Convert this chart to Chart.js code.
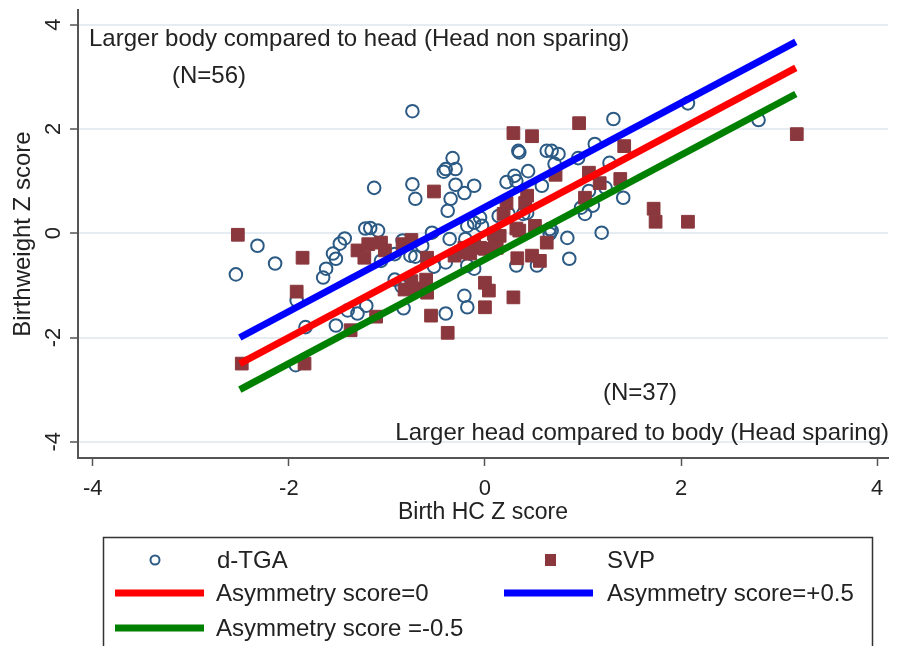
<!DOCTYPE html>
<html>
<head>
<meta charset="utf-8">
<script src="https://cdn.jsdelivr.net/npm/chart.js@4.4.1/dist/chart.umd.min.js"></script>
<style>
  html, body { margin: 0; padding: 0; background: #fff; }
  #wrap { width: 898px; height: 646px; }
</style>
</head>
<body>
<div id="wrap"><canvas id="chart" width="898" height="646"></canvas></div>
<script>
// d-TGA (circles)
const tgaX = [-2.54, -2.32, -2.14, -1.92, -1.83, -1.93, -1.65, -1.62, -1.55, -1.52, -1.48, -1.43, -1.22,
  -1.06, -0.92, -0.92, -0.85, -0.83, -0.76, -0.71, -0.64, -0.52, -0.40, -1.52, -1.30, -1.40, -1.21,
  -0.74, -1.13, -0.74, -0.71, -0.33, -0.40, -0.42, -0.30, -0.30, -0.11, -0.21, -0.35, -0.38,
  0.34, 0.35, 0.44, 0.22, 0.30, 0.32, 0.58, 0.63, 0.14, -0.18, -0.11, -0.03, -0.54, -0.36, -0.20,
  -1.09, -1.17, -0.84, -0.40, -0.18, -0.11, -0.21, -0.18, 0.32, 0.53, 0.24, 0.43, -0.05,
  1.31, 2.07, 1.12, 0.68, 0.75, 0.95, 1.27, 0.71, 1.06, 1.23, 1.41, 0.98, 1.02, 1.10, 1.19,
  0.68, 0.84, 0.86, 2.79, 0.39, 0.66, 0.66];
const tgaY = [-0.79, -0.24, -0.58, -1.29, -1.80, -2.53, -0.85, -0.68, -0.39, -0.49, -0.20, -0.10, 0.09,
  -0.53, -0.40, -0.89, -1.02, -1.44, -0.43, -0.45, -0.24, -0.64, -1.54, -1.77, -1.54, -1.48, -1.39,
  2.34, 0.87, 0.94, 0.66, 1.44, 1.23, 1.18, 1.23, 0.93, 0.91, 0.77, 0.66, 0.43,
  1.58, 1.55, 1.19, 0.98, 1.10, 1.00, 0.91, 1.58, 0.33, 0.14, 0.20, 0.14, 0.01, -0.11, -0.11,
  0.05, 0.10, -0.14, -0.56, -0.62, -0.68, -1.20, -1.42, -0.62, -0.62, 0.37, 0.39, 0.30,
  2.19, 2.49, 1.71, 1.58, 1.52, 1.44, 1.35, 1.33, 0.81, 0.87, 0.68, 0.49, 0.37, 0.53, 0.01,
  0.05, -0.09, -0.49, 2.17, 0.37, 0.08, -0.01];

// SVP (squares)
const svpX = [-2.52, -1.86, -1.92, -2.48, -1.84, -1.30, -1.23, -1.19, -1.06, -1.02, -0.84, -0.75,
  -0.82, -0.75, -0.71, -0.60, -0.59, -0.55, -0.38, -1.37, -1.11,
  0.29, 0.48, -0.52, 0.22, 0.43, 0.41, 0.51, 0.32, 0.15, 0.10, 0.00, -0.11, -0.25, -0.31, -0.59,
  0.33, 0.48, 0.56, 0.00, 0.04, 0.00, 0.29,
  0.96, 1.42, 0.72, 1.06, 1.17, 1.38, 1.02, 1.72, 1.74, 2.07, 0.63, 3.18,
  0.19, 0.09, 0.12, -0.05, -0.15, -0.21, 0.35];
const svpY = [-0.03, -0.47, -1.12, -2.50, -2.50, -0.33, -0.47, -0.21, -0.18, -0.33, -0.21, -0.13,
  -1.08, -0.92, -1.06, -0.89, -1.14, -1.58, -1.91, -1.86, -1.60,
  1.92, 1.86, 0.80, 0.58, 0.72, 0.58, 0.14, 0.09, -0.05, -0.18, -0.30, -0.24, -0.37, -0.43, -0.47,
  -0.48, -0.43, -0.53, -0.95, -1.10, -1.42, -1.23,
  2.11, 1.67, 1.12, 1.16, 0.96, 1.04, 0.68, 0.47, 0.22, 0.22, -0.18, 1.90,
  0.37, -0.01, -0.28, -0.28, -0.39, -0.28, 0.05];

// asymmetry lines
const lineX = [-2.5, 3.17];
const lineZero = [-2.5, 3.17];
const linePlus = [-2.0, 3.67];
const lineMinus = [-3.0, 2.67];

const xTicks = [-4, -2, 0, 2, 4];
const yTicks = [-4, -2, 0, 2, 4];

const FONT = "'Liberation Sans', Arial, sans-serif";
const NAVY = '#2b5a84';
const MAROON = '#8a383d';

function pts(xs, ys) {
  return xs.map((x, i) => ({ x: x, y: ys[i] }));
}

// 注释文字 + 图例
const extras = {
  id: 'extras',
  afterDraw(chart) {
    const ctx = chart.ctx;
    ctx.save();
    ctx.fillStyle = '#222';
    ctx.font = '24px ' + FONT;
    ctx.textBaseline = 'middle';
    ctx.textAlign = 'left';
    ctx.fillText('Larger body compared to head (Head non sparing)', 89, 39);
    ctx.fillText('(N=56)', 172, 76);
    ctx.fillText('(N=37)', 603, 393);
    ctx.textAlign = 'right';
    ctx.fillText('Larger head compared to body (Head sparing)', 889, 433);

    // legend box
    ctx.strokeStyle = '#333';
    ctx.lineWidth = 1.5;
    ctx.strokeRect(103.5, 537.5, 769, 140);

    ctx.textAlign = 'left';
    // row 1
    ctx.beginPath();
    ctx.arc(155, 560, 4.5, 0, Math.PI * 2);
    ctx.strokeStyle = NAVY;
    ctx.lineWidth = 2;
    ctx.stroke();
    ctx.fillText('d-TGA', 217, 561);
    ctx.fillStyle = MAROON;
    ctx.fillRect(545, 554, 11, 12);
    ctx.fillStyle = '#222';
    ctx.fillText('SVP', 607, 561);
    // rows 2, 3
    const lines = [
      ['#ff0000', 115, 593, 'Asymmetry score=0', 216],
      ['#0000ff', 504, 593, 'Asymmetry score=+0.5', 607],
      ['#008000', 115, 628, 'Asymmetry score =-0.5', 216]
    ];
    lines.forEach(l => {
      ctx.fillStyle = l[0];
      ctx.fillRect(l[1], l[2] - 3.5, 89, 7);
      ctx.fillStyle = '#222';
      ctx.fillText(l[3], l[4], l[2] + 1);
    });
    ctx.restore();
  }
};

new Chart(document.getElementById('chart'), {
  type: 'scatter',
  data: {
    datasets: [
      { type: 'line', data: pts(lineX, lineZero), borderColor: '#ff0000', borderWidth: 7, pointRadius: 0, order: 0, borderCapStyle: 'butt' },
      { type: 'line', data: pts(lineX, linePlus), borderColor: '#0000ff', borderWidth: 7, pointRadius: 0, order: 0, borderCapStyle: 'butt' },
      { type: 'line', data: pts(lineX, lineMinus), borderColor: '#008000', borderWidth: 7, pointRadius: 0, order: 0, borderCapStyle: 'butt' },
      { label: 'SVP', data: pts(svpX, svpY), pointStyle: 'rect', pointRadius: 9, backgroundColor: MAROON, borderColor: MAROON, borderWidth: 1, order: 1 },
      { label: 'd-TGA', data: pts(tgaX, tgaY), pointStyle: 'circle', pointRadius: 6.3, backgroundColor: 'rgba(0,0,0,0)', borderColor: NAVY, borderWidth: 2, order: 2 }
    ]
  },
  options: {
    responsive: false,
    animation: false,
    layout: { padding: { left: 0, right: 4, top: 8, bottom: 118 } },
    plugins: { legend: { display: false }, tooltip: { enabled: false } },
    scales: {
      x: {
        type: 'linear',
        min: -4.15,
        max: 4.11,
        afterFit: s => { s.height = 70; s.paddingLeft = 0; s.paddingRight = 0; },
        afterBuildTicks: s => { s.ticks = xTicks.map(v => ({ value: v })); },
        border: { display: true, color: '#555', width: 2 },
        grid: { drawOnChartArea: false, drawTicks: true, tickLength: 8, tickColor: '#555', tickWidth: 1.5 },
        ticks: { color: '#222', font: { family: FONT, size: 22 }, padding: 10, maxRotation: 0 },
        title: { display: true, text: 'Birth HC Z score', color: '#222', font: { family: FONT, size: 23 }, padding: 2 }
      },
      y: {
        type: 'linear',
        min: -4.31,
        max: 4.28,
        afterFit: s => { s.width = 78; s.paddingTop = 0; s.paddingBottom = 0; },
        afterBuildTicks: s => { s.ticks = yTicks.map(v => ({ value: v })); },
        border: { display: true, color: '#555', width: 2 },
        grid: { color: '#e6edf2', lineWidth: 2, drawTicks: true, tickLength: 8, tickColor: '#555', tickWidth: 1.5 },
        ticks: { color: '#222', font: { family: FONT, size: 22 }, padding: 6, minRotation: 90, maxRotation: 90, crossAlign: 'center' },
        title: { display: true, text: 'Birthweight Z score', color: '#222', font: { family: FONT, size: 24 }, padding: 9 }
      }
    }
  },
  plugins: [extras]
});
</script>
</body>
</html>
